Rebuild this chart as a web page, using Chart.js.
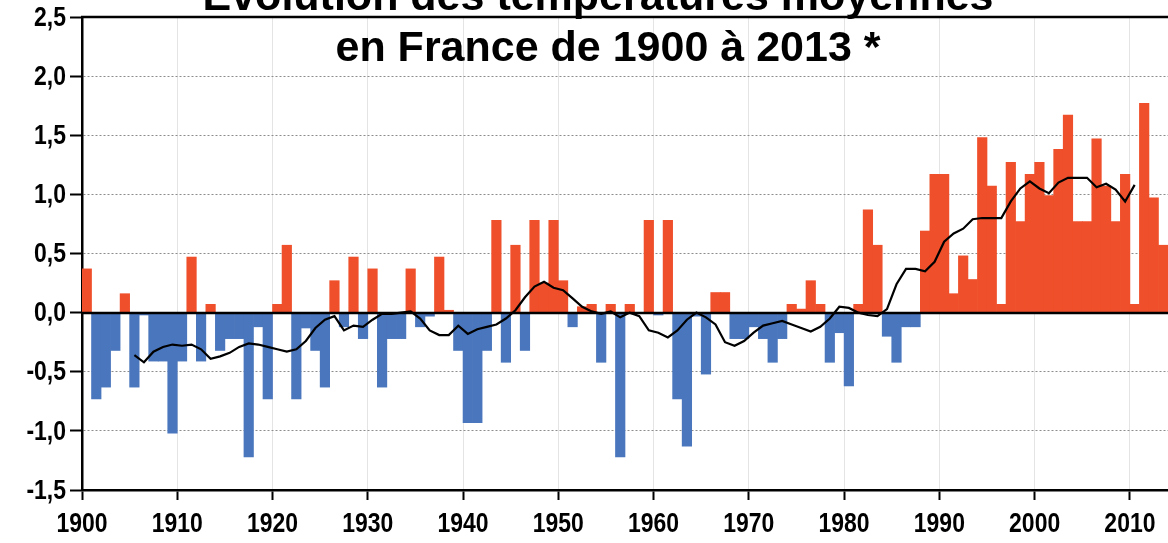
<!DOCTYPE html>
<html>
<head>
<meta charset="utf-8">
<script src="https://cdn.jsdelivr.net/npm/chart.js@4.4.1/dist/chart.umd.min.js"></script>
<style>
  html, body { margin: 0; padding: 0; background: #ffffff; }
  canvas { display: block; }
</style>
</head>
<body>
<canvas id="chart" width="1168" height="543"></canvas>
<script>
// ---------- DATA ----------
const titleLines = ['Évolution des températures moyennes', 'en France de 1900 à 2013 *'];

const years = [
  1900,1901,1902,1903,1904,1905,1906,1907,1908,1909,
  1910,1911,1912,1913,1914,1915,1916,1917,1918,1919,
  1920,1921,1922,1923,1924,1925,1926,1927,1928,1929,
  1930,1931,1932,1933,1934,1935,1936,1937,1938,1939,
  1940,1941,1942,1943,1944,1945,1946,1947,1948,1949,
  1950,1951,1952,1953,1954,1955,1956,1957,1958,1959,
  1960,1961,1962,1963,1964,1965,1966,1967,1968,1969,
  1970,1971,1972,1973,1974,1975,1976,1977,1978,1979,
  1980,1981,1982,1983,1984,1985,1986,1987,1988,1989,
  1990,1991,1992,1993,1994,1995,1996,1997,1998,1999,
  2000,2001,2002,2003,2004,2005,2006,2007,2008,2009,
  2010,2011,2012,2013
];

const anomalies = [
   0.37,-0.73,-0.63,-0.32, 0.16,-0.63,-0.02,-0.41,-0.41,-1.02,
  -0.41, 0.47,-0.41, 0.07,-0.32,-0.22,-0.22,-1.22,-0.12,-0.73,
   0.07, 0.57,-0.73,-0.13,-0.32,-0.63, 0.27,-0.12, 0.47,-0.22,
   0.37,-0.63,-0.22,-0.22, 0.37,-0.12,-0.03, 0.47, 0.02,-0.32,
  -0.93,-0.93,-0.32, 0.78,-0.42, 0.57,-0.32, 0.78, 0.25, 0.78,
   0.27,-0.12, 0.05, 0.07,-0.42, 0.07,-1.22, 0.07, 0.00, 0.78,
  -0.02, 0.78,-0.73,-1.13,-0.03,-0.52, 0.17, 0.17,-0.22,-0.22,
  -0.12,-0.22,-0.42,-0.22, 0.07, 0.03, 0.27, 0.07,-0.42,-0.17,
  -0.62, 0.07, 0.87, 0.57,-0.20,-0.42,-0.12,-0.12, 0.69, 1.17,
   1.17, 0.16, 0.48, 0.28, 1.48, 1.07, 0.07, 1.27, 0.77, 1.17,
   1.27, 0.99, 1.38, 1.67, 0.77, 0.77, 1.47, 1.07, 0.77, 1.17,
   0.07, 1.77, 0.97, 0.57
];

const trendYears = [
  1905,1906,1907,1908,1909,1910,1911,1912,1913,1914,
  1915,1916,1917,1918,1919,1920,1921,1922,1923,1924,
  1925,1926,1927,1928,1929,1930,1931,1932,1933,1934,
  1935,1936,1937,1938,1939,1940,1941,1942,1943,1944,
  1945,1946,1947,1948,1949,1950,1951,1952,1953,1954,
  1955,1956,1957,1958,1959,1960,1961,1962,1963,1964,
  1965,1966,1967,1968,1969,1970,1971,1972,1973,1974,
  1975,1976,1977,1978,1979,1980,1981,1982,1983,1984,
  1985,1986,1987,1988,1989,1990,1991,1992,1993,1994,
  1995,1996,1997,1998,1999,2000,2001,2002,2003,2004,
  2005,2006,2007,2008,2009,2010
];

const trendValues = [
  -0.36,-0.42,-0.33,-0.29,-0.27,-0.28,-0.27,-0.31,-0.39,-0.37,
  -0.34,-0.29,-0.26,-0.27,-0.29,-0.31,-0.33,-0.31,-0.24,-0.13,
  -0.06,-0.03,-0.15,-0.11,-0.12,-0.06,-0.01,-0.01, 0.00, 0.01,
  -0.05,-0.15,-0.19,-0.19,-0.11,-0.18,-0.14,-0.12,-0.10,-0.05,
   0.02, 0.13, 0.22, 0.26, 0.21, 0.19, 0.12, 0.05, 0.01,-0.01,
   0.01,-0.04, 0.00,-0.03,-0.15,-0.17,-0.21,-0.15,-0.06, 0.00,
  -0.04,-0.10,-0.25,-0.28,-0.24,-0.17,-0.11,-0.09,-0.07,-0.10,
  -0.13,-0.16,-0.12,-0.05, 0.05, 0.04, 0.00,-0.02,-0.03, 0.03,
   0.24, 0.37, 0.37, 0.35, 0.43, 0.60, 0.67, 0.71, 0.79, 0.80,
   0.80, 0.80, 0.94, 1.05, 1.11, 1.05, 1.01, 1.10, 1.14, 1.14,
   1.14, 1.06, 1.09, 1.04, 0.94, 1.08
];

const xTickYears = [1900,1910,1920,1930,1940,1950,1960,1970,1980,1990,2000,2010];
const yTickValues = [-1.5,-1.0,-0.5,0.0,0.5,1.0,1.5,2.0,2.5];

// ---------- STYLE ----------
const WARM = '#ef4f2a';
const COLD = '#4a76bd';
const LABEL_FONT_CSS = 'bold 28px "Liberation Sans", Arial, sans-serif';
const LABEL_SQUEEZE = 0.82;   // tick labels in the source are a condensed bold face

const formatY = v => v.toFixed(1).replace('.', ',');

const decorPlugin = {
  id: 'decor',
  afterDatasetDraw(chart, args) {
    if (args.meta.type !== 'bar') return;
    const { ctx, chartArea, scales } = chart;
    const y0 = Math.round(scales.y.getPixelForValue(0));
    ctx.save();
    ctx.strokeStyle = '#000';
    ctx.lineWidth = 2.5;
    ctx.beginPath();
    ctx.moveTo(chartArea.left, y0);
    ctx.lineTo(chartArea.right, y0);
    ctx.stroke();
    ctx.restore();
  },
  afterDraw(chart) {
    const { ctx, chartArea, scales } = chart;
    ctx.save();
    // top frame line
    ctx.strokeStyle = '#000';
    ctx.lineWidth = 2.5;
    ctx.beginPath();
    ctx.moveTo(chartArea.left - 1, chartArea.top);
    ctx.lineTo(chartArea.right, chartArea.top);
    ctx.stroke();

    // condensed tick labels, positioned by the library's scales
    ctx.fillStyle = '#000';
    ctx.font = LABEL_FONT_CSS;
    ctx.textAlign = 'center';
    ctx.textBaseline = 'middle';
    scales.x.ticks.forEach(t => {
      const px = scales.x.getPixelForValue(t.value);
      ctx.save();
      ctx.translate(px, 524);
      ctx.scale(LABEL_SQUEEZE, 1);
      ctx.fillText(String(t.value), 0, 0);
      ctx.restore();
    });
    ctx.textAlign = 'right';
    scales.y.ticks.forEach(t => {
      const py = scales.y.getPixelForValue(t.value);
      ctx.save();
      ctx.translate(66, py + 1);
      ctx.scale(LABEL_SQUEEZE, 1);
      ctx.fillText(formatY(t.value), 0, 0);
      ctx.restore();
    });

    // title
    ctx.font = 'bold 43px "Liberation Sans", Arial, sans-serif';
    ctx.textAlign = 'center';
    ctx.textBaseline = 'alphabetic';
    ctx.fillText(titleLines[0], 598, 10);
    ctx.fillText(titleLines[1], 608, 61);
    ctx.restore();
  }
};

new Chart(document.getElementById('chart'), {
  type: 'bar',
  data: {
    datasets: [
      {
        type: 'line',
        data: trendYears.map((yr, i) => ({ x: yr + 0.5, y: trendValues[i] })),
        borderColor: '#000',
        borderWidth: 2.2,
        pointRadius: 0,
        tension: 0,
        fill: false,
        order: 0
      },
      {
        type: 'bar',
        data: years.map((yr, i) => ({ x: yr + 0.5, y: anomalies[i] })),
        backgroundColor: c => (c.raw && c.raw.y >= 0 ? WARM : COLD),
        borderWidth: 0,
        barPercentage: 1,
        categoryPercentage: 1,
        order: 1
      }
    ]
  },
  options: {
    responsive: false,
    animation: false,
    layout: { padding: { top: 17, left: 0, right: 0, bottom: 0 } },
    plugins: { legend: { display: false }, tooltip: { enabled: false }, title: { display: false } },
    scales: {
      x: {
        type: 'linear',
        min: 1900,
        max: 2014,
        offset: false,
        afterBuildTicks: s => { s.ticks = xTickYears.map(v => ({ value: v })); },
        afterFit: s => { s.height = 53; },
        ticks: { display: false },
        grid: { color: '#e4e4e4', lineWidth: 1, offset: false, drawTicks: true,
                tickLength: 10, tickColor: '#000', tickWidth: 2 },
        border: { color: '#000', width: 2.5 }
      },
      y: {
        min: -1.5,
        max: 2.5,
        afterBuildTicks: s => { s.ticks = yTickValues.map(v => ({ value: v })); },
        afterFit: s => { s.width = 82; },
        ticks: { display: false },
        grid: { color: c => (c.tick && c.tick.value === 0 ? 'rgba(0,0,0,0)' : '#8c8c8c'),
                lineWidth: 1, drawTicks: true, tickLength: 12, tickColor: '#000', tickWidth: 2 },
        border: { color: '#000', width: 2.5, dash: [2, 2] }
      }
    }
  },
  plugins: [decorPlugin]
});
</script>
</body>
</html>
